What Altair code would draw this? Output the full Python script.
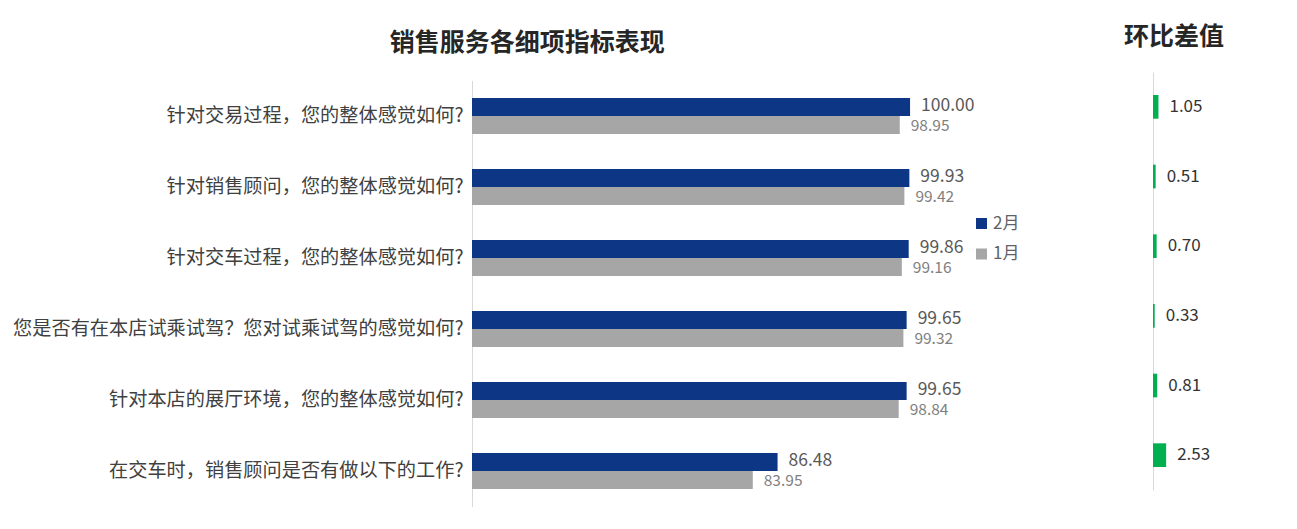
import altair as alt
import pandas as pd

categories = [
    "针对交易过程，您的整体感觉如何?",
    "针对销售顾问，您的整体感觉如何?",
    "针对交车过程，您的整体感觉如何?",
    "您是否有在本店试乘试驾？您对试乘试驾的感觉如何?",
    "针对本店的展厅环境，您的整体感觉如何?",
    "在交车时，销售顾问是否有做以下的工作?",
]
months = ["2月", "1月"]
feb = [100.00, 99.93, 99.86, 99.65, 99.65, 86.48]
jan = [98.95, 99.42, 99.16, 99.32, 98.84, 83.95]
diff = [1.05, 0.51, 0.70, 0.33, 0.81, 2.53]

FONT = "Noto Sans CJK SC"
XMIN, XMAX = 55.3, 112.0
H = 434.5

rows = []
for c, f, j in zip(categories, feb, jan):
    rows.append({"cat": c, "month": months[0], "value": f})
    rows.append({"cat": c, "month": months[1], "value": j})
bars_df = pd.DataFrame(rows)
diff_df = pd.DataFrame({"cat": categories, "diff": diff})

y_left = alt.Y("cat:N", sort=categories, title=None,
               scale=alt.Scale(range=[8.5, H], paddingInner=0.493, paddingOuter=0.2465),
               axis=alt.Axis(ticks=False, labelFont=FONT, labelFontSize=19.2, labelColor="#404040",
                             labelPadding=9, domainColor="#d9d9d9", labelLimit=600))
yoff = alt.YOffset("month:N", sort=months, scale=alt.Scale(paddingInner=0, paddingOuter=0))
x_left = alt.X("value:Q", scale=alt.Scale(domain=[XMIN, XMAX], zero=False, nice=False), axis=None)

base = alt.Chart(bars_df)
bars = base.mark_bar().encode(
    y=y_left, yOffset=yoff, x=x_left, x2=alt.datum(XMIN),
    color=alt.Color("month:N", sort=months,
                    scale=alt.Scale(domain=months, range=["#0d3685", "#a6a6a6"]),
                    legend=alt.Legend(title=None, orient="none", legendX=501, legendY=143,
                                      symbolType="square", symbolSize=121, symbolStrokeWidth=0,
                                      labelFont=FONT, labelFontSize=17, labelColor="#5f6166",
                                      labelOffset=3, rowPadding=12.5)),
)
lab_feb = base.transform_filter(alt.datum.month == months[0]).mark_text(
    align="left", baseline="middle", dx=11, dy=-1, font=FONT, fontSize=17.5, color="#595959"
).encode(y=y_left, yOffset=yoff, x=x_left, text=alt.Text("value:Q", format=".2f"))
lab_jan = base.transform_filter(alt.datum.month == months[1]).mark_text(
    align="left", baseline="middle", dx=11, dy=1, font=FONT, fontSize=15.5, color="#7f7f7f"
).encode(y=y_left, yOffset=yoff, x=x_left, text=alt.Text("value:Q", format=".2f"))

left = alt.layer(bars, lab_feb, lab_jan).properties(
    width=(XMAX - XMIN) * 9.8, height=H,
    title=alt.TitleParams("销售服务各细项指标表现", font=FONT, fontSize=25, fontWeight="bold",
                          color="#262626", anchor="middle", frame="bounds", offset=16, dx=7),
)

W2 = 40
y_right = alt.Y("cat:N", sort=categories, title=None,
                scale=alt.Scale(range=[0, 418], paddingInner=0.66, paddingOuter=0.33),
                axis=alt.Axis(labels=False, ticks=False, domainColor="#d9d9d9"))
x_right = alt.X("diff:Q", scale=alt.Scale(domain=[0, W2 / 5.2], nice=False), axis=None)
rbase = alt.Chart(diff_df)
rbars = rbase.mark_bar(color="#00b050").encode(y=y_right, x=x_right)
rlab = rbase.mark_text(align="left", baseline="middle", dx=11, font=FONT, fontSize=17,
                       color="#333333").encode(y=y_right, x=x_right,
                                               text=alt.Text("diff:Q", format=".2f"))
right = alt.layer(rbars, rlab).properties(
    width=W2, height=H,
    title=alt.TitleParams("环比差值", font=FONT, fontSize=25, fontWeight="bold", color="#262626",
                          anchor="start", frame="group", offset=22, dx=-29),
)

chart = alt.hconcat(left, right, spacing=125, bounds="flush").resolve_scale(
    color="independent", y="independent"
).resolve_legend(color="independent").properties(
    padding={"left": 4, "top": 17, "right": 5, "bottom": 5}, background="white"
).configure_view(strokeWidth=0, stroke="transparent")

chart.save("out.html", embed_options={"renderer": "svg", "actions": False})
